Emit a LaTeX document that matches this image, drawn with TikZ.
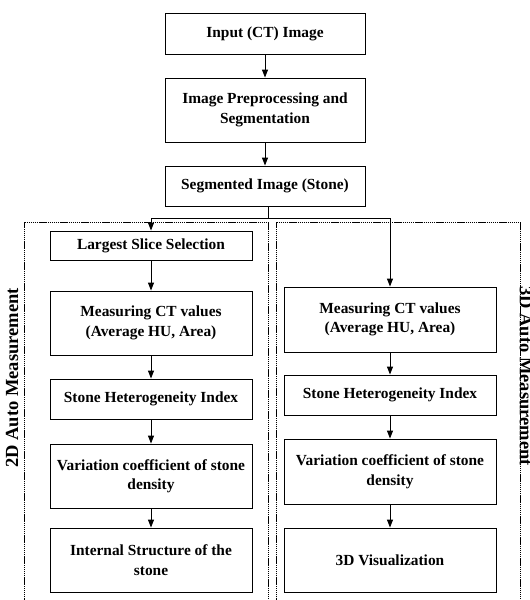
\documentclass[tikz,border=0pt]{standalone}
\usepackage{fontspec}
\setmainfont{Liberation Serif}
\usepackage{tikz}
\usetikzlibrary{positioning, arrows.meta}

\begin{document}
\begin{tikzpicture}[
    x=1pt, y=-1pt,
    box/.style={draw, line width=0.9pt, minimum width=200pt, inner sep=0pt,
                font=\fontsize{15.4}{19.5}\selectfont\bfseries, align=center},
    lbox/.style={box, minimum width=202pt},
    rbox/.style={box, minimum width=212pt},
    groupbox/.style={draw, line width=0.8pt, dash pattern=on 1.4pt off 0.7pt},
    lbl/.style={font=\fontsize{18.5}{20}\selectfont\bfseries},
    arr/.style={-{Triangle[length=8pt,width=6pt]}, line width=0.9pt},
]
\useasboundingbox (0,0) rectangle (530,600);

%% -- Common steps ----------------------------------------------------------
\node[box, minimum height=41pt] (input) at (265, 33.5) {Input (CT) Image};
\node[box, minimum height=64pt] (prep)  at (265, 110) {Image Preprocessing and\\Segmentation};
\node[box, minimum height=40pt] (seg)   at (265, 186) {Segmented Image (Stone)};

\draw[arr] (input) -- (prep);
\draw[arr] (prep) -- (seg);

%% -- Group frames (cut off at the bottom) ---------------------------------
\draw[groupbox] (24, 610) |- (268, 222) -- (268, 610);
\draw[groupbox] (276, 610) |- (520, 222) -- (520, 610);

\node[lbl, rotate=90]  (lbl2d) at (12, 378)  {2D Auto Measurement};
\node[lbl, rotate=-90] (lbl3d) at (526, 376) {3D Auto Measurement};

%% -- 2D branch -------------------------------------------------------------
\node[lbox, minimum height=29pt] (l1) at (151, 245.5) {Largest Slice Selection};
\node[lbox, minimum height=64pt] (l2) at (151, 323)   {Measuring CT values\\(Average HU, Area)};
\node[lbox, minimum height=40pt] (l3) at (151, 399)   {Stone Heterogeneity Index};
\node[lbox, minimum height=64pt] (l4) at (151, 476)   {Variation coefficient of stone\\density};
\node[lbox, minimum height=64pt] (l5) at (151, 560)   {Internal Structure of the\\stone};

\draw[arr] (l1) -- (l2);
\draw[arr] (l2) -- (l3);
\draw[arr] (l3) -- (l4);
\draw[arr] (l4) -- (l5);

%% -- 3D branch -------------------------------------------------------------
\node[rbox, minimum height=65pt] (r1) at (390, 319.5) {Measuring CT values\\(Average HU, Area)};
\node[rbox, minimum height=40pt] (r2) at (390, 395)   {Stone Heterogeneity Index};
\node[rbox, minimum height=65pt] (r3) at (390, 471.5) {Variation coefficient of stone\\density};
\node[rbox, minimum height=64pt] (r4) at (390, 560)   {3D Visualization};

\draw[arr] (r1) -- (r2);
\draw[arr] (r2) -- (r3);
\draw[arr] (r3) -- (r4);

%% -- Split into the two branches -------------------------------------------
\coordinate (split) at (268, 218);
\draw[line width=0.9pt] (seg.south -| split) -- (split);
\draw[arr] (split) -| (l1.north);
\draw[arr] (split) -| (r1.north);

\end{tikzpicture}
\end{document}
